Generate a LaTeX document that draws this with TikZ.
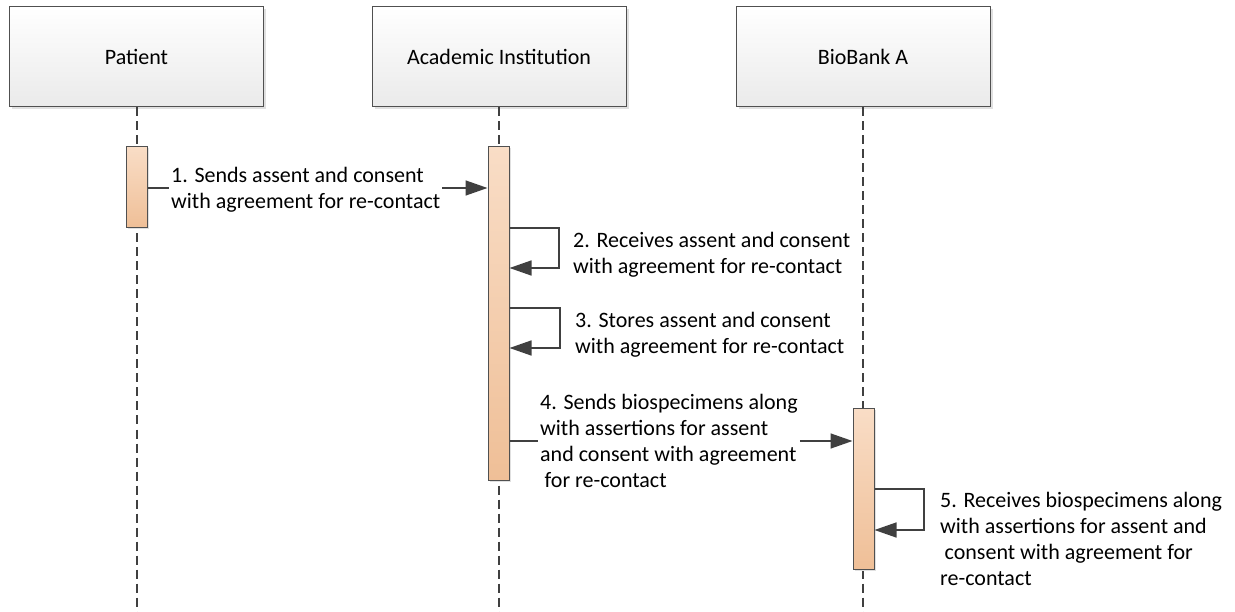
\documentclass[tikz,border=0pt]{standalone}
\usepackage{fontspec}
\setmainfont{Carlito}
\usetikzlibrary{arrows.meta,shadows}
\definecolor{linec}{HTML}{404040}
\definecolor{boxedge}{HTML}{505050}
\definecolor{bartop}{HTML}{F9DDC6}
\definecolor{barbot}{HTML}{EFBF97}
\definecolor{headbot}{HTML}{EAEAEA}
\begin{document}
\begin{tikzpicture}[x=1pt,y=-1pt,
  every node/.style={font=\fontsize{22}{26}\selectfont},
  head/.style={draw=boxedge, line width=1pt, top color=white, bottom color=headbot,
    minimum width=254pt, minimum height=100pt, inner sep=0,
    drop shadow={shadow xshift=2.5pt, shadow yshift=-2.5pt, fill=black!12, opacity=1}},
  life/.style={draw=linec, line width=1.2pt, dash pattern=on 9pt off 5pt},
  act/.style={draw=boxedge, line width=1pt, top color=bartop, bottom color=barbot,
    minimum width=21pt, inner sep=0,
    drop shadow={shadow xshift=1.5pt, shadow yshift=-1.5pt, fill=black!12, opacity=1}},
  msg/.style={draw=linec, line width=1.5pt},
  arr/.style={msg, -{Triangle[length=22pt,width=15pt]}},
  lbl/.style={align=left, inner sep=0, anchor=north west}
]
\useasboundingbox (0,0) rectangle (1235,612);

% headers
\node[head] (hp) at (136.5,57) {Patient};
\node[head] (ha) at (499,57) {Academic Institution};
\node[head] (hb) at (863,57) {BioBank A};

% lifeline ends
\coordinate (ep) at (137,612);
\coordinate (ea) at (499,612);
\coordinate (eb) at (863,612);
\draw[life] (hp.south -| ep) -- (ep);
\draw[life] (ha.south -| ea) -- (ea);
\draw[life] (hb.south -| eb) -- (eb);

% activation bars
\node[act, minimum height=81pt] (bp) at (137,187.5) {};
\node[act, minimum height=333pt] (ba) at (498.5,313.5) {};
\node[act, minimum height=160pt] (bb) at (863.5,489) {};

% labels
\node[lbl] (l1) at (171,167) {1. Sends assent and consent\\with agreement for re-contact};
\node[lbl] (l2) at (573,232) {2. Receives assent and consent\\with agreement for re-contact};
\node[lbl] (l3) at (575,312) {3. Stores assent and consent\\with agreement for re-contact};
\node[lbl] (l4) at (540,394) {4. Sends biospecimens along\\with assertions for assent\\and consent with agreement\\\hspace*{4.5pt}for re-contact};
\node[lbl] (l5) at (940,492) {5. Receives biospecimens along\\with assertions for assent and\\\hspace*{4.5pt}consent with agreement for\\re-contact};

% message 1
\coordinate (m1) at (0,188);
\draw[msg] (bp.east |- m1) -- ([xshift=-2pt]l1.west |- m1);
\draw[arr] ([xshift=2pt]l1.east |- m1) -- (ba.west |- m1);

% message 2 (self)
\coordinate (r2a) at (559,228);
\coordinate (r2b) at (559,268);
\draw[arr] (ba.east |- r2a) -- (r2a) -- (r2b) -- (ba.east |- r2b);

% message 3 (self)
\coordinate (r3a) at (560,308);
\coordinate (r3b) at (560,348);
\draw[arr] (ba.east |- r3a) -- (r3a) -- (r3b) -- (ba.east |- r3b);

% message 4
\coordinate (m4) at (0,441);
\draw[msg] (ba.east |- m4) -- ([xshift=-2pt]l4.west |- m4);
\draw[arr] ([xshift=2pt]l4.east |- m4) -- (bb.west |- m4);

% message 5 (self)
\coordinate (r5a) at (924,489);
\coordinate (r5b) at (924,530);
\draw[arr] (bb.east |- r5a) -- (r5a) -- (r5b) -- (bb.east |- r5b);
\end{tikzpicture}
\end{document}
